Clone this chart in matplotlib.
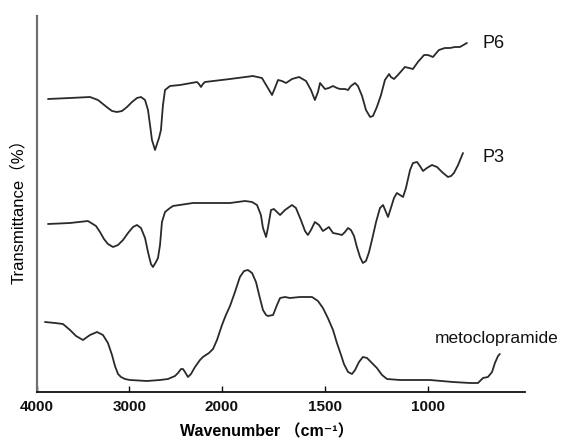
import numpy as np
import matplotlib
matplotlib.use("Agg")
import matplotlib.pyplot as plt

# ---- data (wavenumber cm-1, relative transmittance, traces offset) ----
p6_wn = [3881, 3643, 3427, 3341, 3287, 3233, 3189, 3135, 3081, 3027, 2973, 2919, 2876, 2832, 2800, 2778,
         2757, 2724, 2703, 2681, 2660, 2638, 2616, 2562, 2454, 2270, 2249, 2227, 2206, 2184, 1961, 1850,
         1806, 1777, 1757, 1743, 1728, 1709, 1689, 1660, 1626, 1592, 1568, 1549, 1534, 1524, 1500, 1481,
         1461, 1442, 1427, 1403, 1388, 1374, 1354, 1340, 1320, 1301, 1281, 1267, 1248, 1228, 1209, 1189,
         1180, 1165, 1146, 1112, 1092, 1073, 1049, 1019, 1000, 976, 947, 918, 893, 869, 845, 811]
p6_t = [293, 294, 295, 292, 288, 284, 281, 280, 281, 285, 290, 294, 295, 292, 282, 267,
        252, 242, 248, 254, 262, 287, 302, 306, 307, 310, 308, 305, 308, 310, 313, 316,
        314, 304, 297, 304, 312, 311, 309, 313, 315, 311, 302, 292, 300, 309, 303, 304,
        306, 304, 303, 303, 302, 306, 309, 306, 296, 282, 275, 276, 285, 297, 312, 318,
        315, 313, 317, 325, 324, 323, 330, 337, 337, 335, 342, 344, 344, 345, 345, 349]

p3_wn = [3881, 3643, 3449, 3362, 3319, 3276, 3233, 3178, 3124, 3070, 3016, 2962, 2919, 2876, 2832, 2800,
         2768, 2746, 2714, 2692, 2670, 2649, 2616, 2562, 2530, 2314, 2238, 1961, 1888, 1854, 1830, 1811,
         1801, 1786, 1777, 1762, 1748, 1718, 1694, 1660, 1641, 1617, 1597, 1583, 1568, 1549, 1529, 1510,
         1495, 1481, 1461, 1437, 1418, 1403, 1388, 1374, 1359, 1345, 1330, 1316, 1301, 1286, 1272, 1252,
         1233, 1218, 1204, 1194, 1180, 1165, 1151, 1136, 1121, 1107, 1087, 1073, 1053, 1039, 1024, 1005,
         981, 956, 932, 903, 888, 874, 854, 830]
p3_t = [168, 169, 171, 166, 160, 153, 148, 145, 147, 152, 159, 165, 167, 164, 154, 140,
        128, 125, 130, 134, 147, 170, 180, 184, 186, 189, 189, 189, 191, 190, 187, 177,
        164, 155, 164, 182, 183, 177, 182, 187, 184, 172, 161, 157, 162, 170, 167, 161,
        163, 165, 159, 158, 157, 160, 164, 162, 156, 145, 135, 129, 131, 140, 152, 170,
        184, 187, 180, 175, 184, 194, 199, 197, 195, 204, 222, 229, 230, 226, 221, 224,
        227, 225, 220, 215, 216, 219, 227, 239]

met_wn = [3914, 3805, 3719, 3643, 3578, 3503, 3427, 3351, 3287, 3233, 3189, 3157, 3124, 3092, 3049, 2995,
          2811, 2670, 2584, 2508, 2476, 2443, 2422, 2400, 2368, 2335, 2292, 2238, 2206, 2141, 2097, 2054,
          2000, 1981, 1961, 1937, 1913, 1893, 1874, 1854, 1835, 1816, 1801, 1786, 1777, 1752, 1733, 1718,
          1694, 1670, 1621, 1563, 1534, 1510, 1486, 1461, 1442, 1422, 1408, 1388, 1369, 1354, 1335, 1316,
          1296, 1272, 1248, 1223, 1199, 1136, 990, 879, 796, 757, 733, 709, 689, 675, 660, 651]
met_t = [70, 69, 68, 62, 56, 52, 57, 60, 57, 49, 37, 26, 18, 15, 13, 12,
         11, 12, 13, 16, 19, 23, 23, 20, 15, 18, 25, 32, 35, 39, 43, 52,
         67, 77, 86, 100, 115, 121, 122, 119, 110, 94, 82, 77, 76, 77, 87, 94,
         95, 94, 95, 95, 91, 84, 74, 62, 49, 37, 28, 20, 18, 22, 30, 35,
         34, 29, 24, 17, 13, 12, 12, 10, 9, 9, 14, 15, 20, 29, 36, 38]

labels = ["P6", "P3", "metoclopramide"]
tick_values = [4000, 3000, 2000, 1500, 1000]

# ---- axis with scale change at 2000 cm-1 ----
BREAK = 2000.0
RATIO = 0.449


def fwd(w):
    w = np.asarray(w, dtype=float)
    return np.where(w >= BREAK, BREAK + (w - BREAK) * RATIO, w)


def inv(v):
    v = np.asarray(v, dtype=float)
    return np.where(v >= BREAK, BREAK + (v - BREAK) / RATIO, v)


fam = ["Liberation Sans", "Noto Sans CJK SC", "DejaVu Sans"]
plt.rcParams["font.family"] = fam

fig = plt.figure(figsize=(5.76, 4.38), dpi=100)
ax = fig.add_axes([37 / 576, 46 / 438, 488 / 576, 376 / 438])
ax.set_xscale("function", functions=(fwd, inv))
ax.set_xlim(4000, 529)
ax.set_ylim(0, 376)

lc = "#2a2a2a"
for wn, t in [(p6_wn, p6_t), (p3_wn, p3_t), (met_wn, met_t)]:
    ax.plot(wn, t, color=lc, lw=1.3, solid_joinstyle="round", solid_capstyle="round")

for s in ["top", "right"]:
    ax.spines[s].set_visible(False)
ax.spines["left"].set_color("#707070")
ax.spines["left"].set_linewidth(1.6)
ax.spines["bottom"].set_color("#111111")
ax.spines["bottom"].set_linewidth(1.3)

ax.set_xticks(tick_values)
ax.set_xticklabels([str(v) for v in tick_values], fontsize=11, fontweight="bold")
ax.xaxis.set_minor_locator(matplotlib.ticker.NullLocator())
ax.tick_params(axis="x", direction="in", length=4, width=1, pad=6, colors="#111111")
ax.set_yticks([])

ax.set_xlabel("Wavenumber （cm⁻¹）", fontsize=11.5, fontweight="bold", labelpad=7, x=0.47)
ax.set_ylabel("Transmittance（%）", fontsize=12, labelpad=8, y=0.49)

# trace labels
fig.text(482 / 576, 1 - 43 / 438, labels[0], fontsize=13, va="center", ha="left", color="#111111")
fig.text(482 / 576, 1 - 157 / 438, labels[1], fontsize=13, va="center", ha="left", color="#111111")
fig.text(435 / 576, 1 - 339 / 438, labels[2], fontsize=12.5, va="center", ha="left", color="#111111")

fig.savefig("out.png", dpi=100)
